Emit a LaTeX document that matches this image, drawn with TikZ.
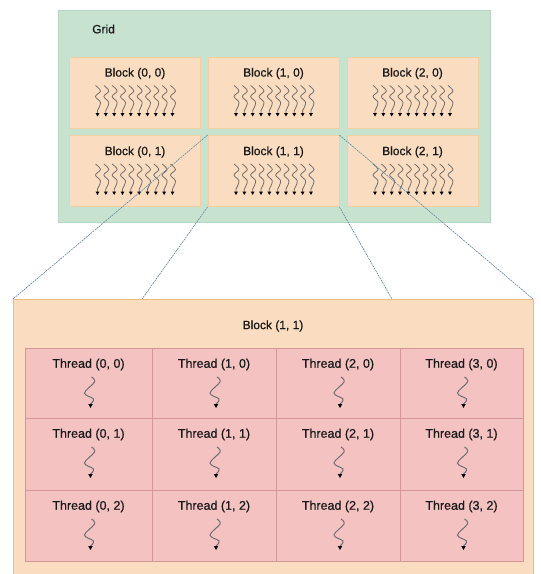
\documentclass[tikz,border=0pt]{standalone}
\usepackage{fontspec}
\setmainfont{Liberation Sans}
\newfontfamily\lblfont{Liberation Sans}[FakeBold=0.6]
\usetikzlibrary{arrows.meta,calc}
\definecolor{gridfill}{RGB}{199,227,208}
\definecolor{gridline}{RGB}{180,218,195}
\definecolor{blockfill}{RGB}{250,221,192}
\definecolor{blockline}{RGB}{242,206,160}
\definecolor{bigline}{RGB}{232,190,130}
\definecolor{threadfill}{RGB}{245,194,194}
\definecolor{threadline}{RGB}{212,150,150}
\definecolor{linkcol}{RGB}{100,135,155}
\definecolor{txt}{RGB}{25,25,25}
\definecolor{wavecol}{RGB}{110,110,110}
\tikzset{
  gridbox/.style={draw=gridline, fill=gridfill, line width=0.8pt, minimum width=432pt, minimum height=212pt, inner sep=0pt},
  blockbox/.style={draw=blockline, fill=blockfill, line width=0.8pt, minimum width=131pt, minimum height=71pt, inner sep=0pt},
  bigbox/.style={draw=bigline, fill=blockfill, line width=0.8pt, inner sep=0pt},
  threadbox/.style={draw=threadline, fill=threadfill, line width=0.8pt, inner sep=0pt},
  lbl/.style={text=txt, font=\lblfont\fontsize{12}{14}\selectfont, inner sep=0pt},
  tlbl/.style={text=txt, font=\lblfont\fontsize{12.5}{14}\selectfont, inner sep=0pt},
  link/.style={draw=linkcol, line width=0.6pt, dash pattern=on 2pt off 0.8pt},
  bigwave/.pic={\draw[wavecol, line width=1pt, -{Triangle[length=4pt,width=4.2pt,color=black]}]
     plot[smooth, tension=0.6] coordinates {(1,0) (4,5) (-6,16) (3,22) (0,27)} -- (0,31);},
  smallwave/.pic={\draw[wavecol, line width=0.8pt, -{Triangle[length=3.4pt,width=3.6pt,color=black]}]
     plot[smooth, tension=0.6] coordinates {(-2,0) (3,5.5) (-2,11) (3,17) (0,25)} -- (0,31);}
}
\begin{document}
\begin{tikzpicture}[x=1pt,y=-1pt]
\useasboundingbox (0,0) rectangle (541,574);
\fill[white] (0,0) rectangle (541,574);

% Grid
\node[gridbox] (grid) at (274,116) {};
\node[lbl, anchor=west] (gridlbl) at (92,29) {Grid};

% Blocks of the grid
\foreach \cx/\i in {135/0, 273.5/1, 412.5/2}{
  \foreach \cy/\j in {92.5/0, 171/1}{
    \node[blockbox] (b\i\j) at (\cx,\cy) {};
    \node[lbl] (bl\i\j) at (\cx,\cy-19) {Block (\i, \j)};
    \foreach \k in {0,...,9}{
      \pic at (\cx-37.5+8.33*\k, \cy-7) {smallwave};
    }
  }
}

% Big block (1,1)
\node[bigbox, minimum width=520pt, minimum height=281pt] (big) at (273,439.5) {};
\coordinate (bignw) at (13,299);
\coordinate (bigne) at (533,299);
\coordinate (l2) at (142,299);
\coordinate (r2) at (392,299);
\node[lbl] (biglbl) at (273,326) {Block (1, 1)};

% Zoom lines
\draw[link] (b11.north west) -- (bignw);
\draw[link] (b11.south west) -- (l2);
\draw[link] (b11.north east) -- (bigne);
\draw[link] (b11.south east) -- (r2);

% Thread cells
\foreach \xa/\xb/\i in {25/152/0, 152/276/1, 276/400/2, 400/523/3}{
  \foreach \ya/\yb/\j in {348/418/0, 418/490/1, 490/561/2}{
    \node[threadbox, minimum width={(\xb-\xa)*1pt}, minimum height={(\yb-\ya)*1pt}] (c\i\j) at ({(\xa+\xb)/2}, {(\ya+\yb)/2}) {};
    \node[tlbl] (t\i\j) at ({(\xa+\xb)/2}, \ya+16.5) {Thread (\i, \j)};
    \pic at ({(\xa+\xb)/2+2}, \ya+29) {bigwave};
  }
}
\end{tikzpicture}
\end{document}
